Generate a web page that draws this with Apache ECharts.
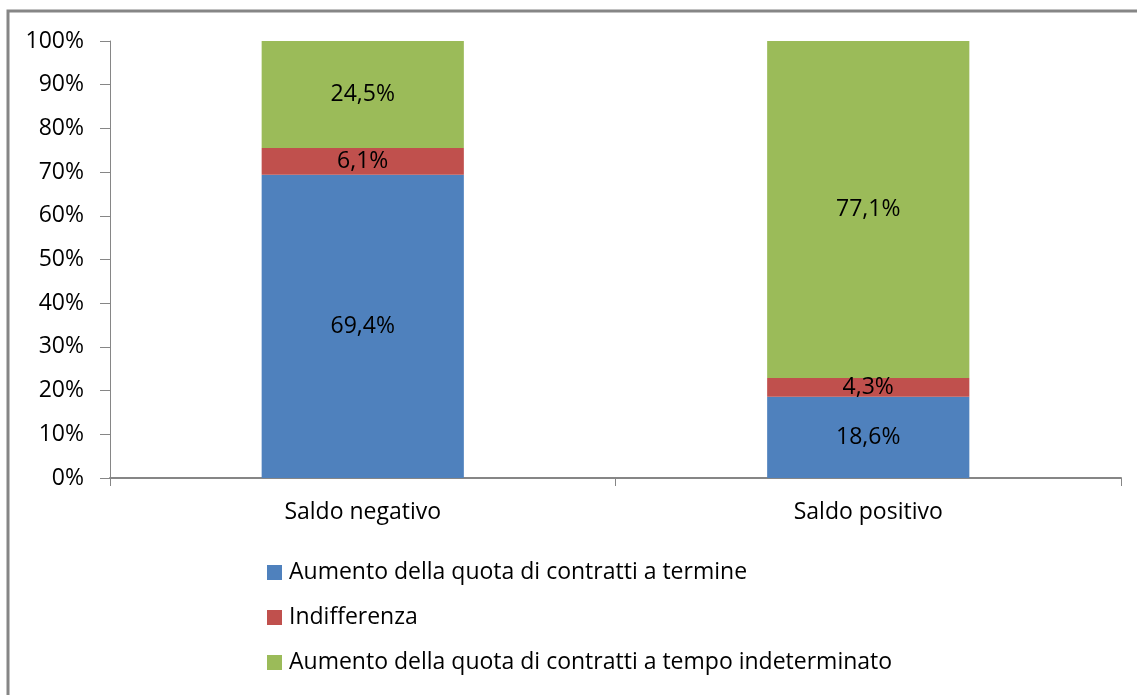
<!DOCTYPE html>
<html>
<head>
<meta charset="utf-8">
<script src="https://cdn.jsdelivr.net/npm/echarts@6/dist/echarts.min.js"></script>
<style>
  html, body { margin: 0; padding: 0; background: #fff; }
  #chart { width: 1137px; height: 695px; }
</style>
</head>
<body>
<div id="chart"></div>
<script>
// dati
const categories = ['Saldo negativo', 'Saldo positivo'];
const seriesNames = [
  'Aumento della quota di contratti a termine',
  'Indifferenza',
  'Aumento della quota di contratti a tempo indeterminato'
];
const termine = [69.4, 18.6];
const indifferenza = [6.1, 4.3];
const indeterminato = [24.5, 77.1];
const yTicks = [0, 10, 20, 30, 40, 50, 60, 70, 80, 90, 100];

const colors = ['#4F81BD', '#C0504D', '#9BBB59'];
const fontFamily = '"Open Sans", "Noto Sans", sans-serif';

const chart = echarts.init(document.getElementById('chart'), null, { renderer: 'canvas' });

const makeSeries = (name, data) => ({
  name: name,
  type: 'bar',
  stack: 'tot',
  barWidth: '40%',
  data: data,
  label: {
    show: true,
    position: 'inside',
    color: '#000',
    fontSize: 23,
    fontFamily: fontFamily,
    formatter: p => p.value.toFixed(1).replace('.', ',') + '%'
  }
});

const option = {
  animation: false,
  color: colors,
  grid: { left: 110, right: 16, top: 41, bottom: 217 },
  graphic: [{
    type: 'rect',
    shape: { x: 8, y: 11, width: 1200, height: 800 },
    style: { fill: 'none', stroke: '#868686', lineWidth: 3 },
    silent: true
  }],
  legend: {
    orient: 'vertical',
    left: 262,
    top: 556,
    itemWidth: 15,
    itemHeight: 15,
    itemGap: 22,
    icon: 'rect',
    data: seriesNames,
    textStyle: { fontSize: 23, fontFamily: fontFamily, color: '#000', padding: [0, 0, 0, 2] }
  },
  xAxis: {
    type: 'category',
    data: categories,
    boundaryGap: true,
    axisLine: { lineStyle: { color: '#868686', width: 2 } },
    axisTick: { show: true, length: 8, lineStyle: { color: '#868686' } },
    axisLabel: { fontSize: 23, fontFamily: fontFamily, color: '#000', margin: 23 }
  },
  yAxis: {
    type: 'value',
    min: yTicks[0],
    max: yTicks[yTicks.length - 1],
    interval: 10,
    splitLine: { show: false },
    axisLine: { show: true, lineStyle: { color: '#868686', width: 1 } },
    axisTick: { show: true, length: 10, lineStyle: { color: '#868686' } },
    axisLabel: { fontSize: 23, fontFamily: fontFamily, color: '#000', margin: 26, formatter: '{value}%' }
  },
  series: [
    makeSeries(seriesNames[0], termine),
    makeSeries(seriesNames[1], indifferenza),
    makeSeries(seriesNames[2], indeterminato)
  ]
};

chart.setOption(option);
</script>
</body>
</html>
